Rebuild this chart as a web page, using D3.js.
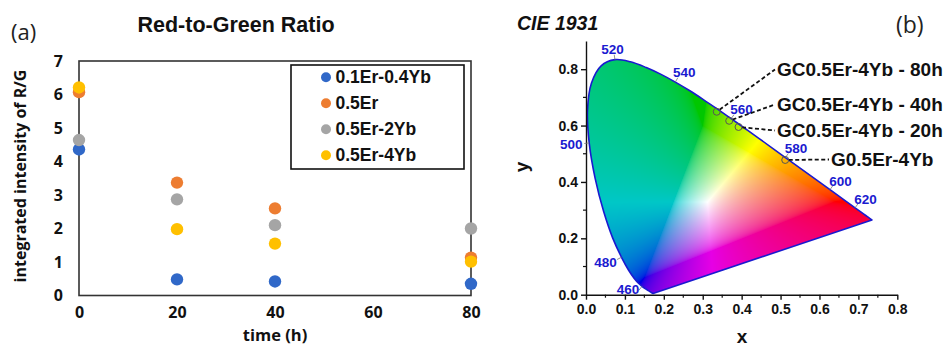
<!DOCTYPE html>
<html><head><meta charset="utf-8">
<script src="https://cdn.jsdelivr.net/npm/d3@7"></script>
<style>
html,body{margin:0;padding:0;background:#fff;}
svg{display:block;}
</style></head>
<body>
<svg id="fig" width="944" height="347"></svg>
<script>
// ---------- Panel (a) data ----------
const times = [0, 20, 40, 80];
const seriesNames = ["0.1Er-0.4Yb", "0.5Er", "0.5Er-2Yb", "0.5Er-4Yb"];
const ratio_01Er_04Yb = [4.36, 0.48, 0.42, 0.35];
const ratio_05Er = [6.07, 3.37, 2.60, 1.13];
const ratio_05Er_2Yb = [4.64, 2.87, 2.10, 2.00];
const ratio_05Er_4Yb = [6.21, 1.98, 1.55, 1.01];
const ratioYTicks = [0, 1, 2, 3, 4, 5, 6, 7];
const timeXTicks = [0, 20, 40, 60, 80];

// ---------- Panel (b) data ----------
const locusNm = [380,385,390,395,400,405,410,415,420,425,430,435,440,445,450,455,460,465,470,475,480,485,490,495,500,505,510,515,520,525,530,535,540,545,550,555,560,565,570,575,580,585,590,595,600,605,610,615,620,625,630,635,640,645,650,655,660,665,670,675,680,685,690,695,700];
const locusX = [0.1741,0.1740,0.1738,0.1736,0.1733,0.1730,0.1726,0.1721,0.1714,0.1703,0.1689,0.1669,0.1644,0.1611,0.1566,0.1510,0.1440,0.1355,0.1241,0.1096,0.0913,0.0687,0.0454,0.0235,0.0082,0.0039,0.0139,0.0389,0.0743,0.1142,0.1547,0.1929,0.2296,0.2658,0.3016,0.3373,0.3731,0.4087,0.4441,0.4788,0.5125,0.5448,0.5752,0.6029,0.6270,0.6482,0.6658,0.6801,0.6915,0.7006,0.7079,0.7140,0.7190,0.7230,0.7260,0.7283,0.7300,0.7311,0.7320,0.7327,0.7334,0.7340,0.7344,0.7346,0.7347];
const locusY = [0.0050,0.0050,0.0049,0.0049,0.0048,0.0048,0.0048,0.0048,0.0051,0.0058,0.0069,0.0086,0.0109,0.0138,0.0177,0.0227,0.0297,0.0399,0.0578,0.0868,0.1327,0.2007,0.2950,0.4127,0.5384,0.6548,0.7502,0.8120,0.8338,0.8262,0.8059,0.7816,0.7543,0.7243,0.6923,0.6589,0.6245,0.5896,0.5547,0.5202,0.4866,0.4544,0.4242,0.3965,0.3725,0.3514,0.3340,0.3197,0.3083,0.2993,0.2920,0.2859,0.2809,0.2770,0.2740,0.2717,0.2700,0.2689,0.2680,0.2673,0.2666,0.2660,0.2656,0.2654,0.2653];
const labelNm = [460, 480, 500, 520, 540, 560, 580, 600, 620];
const sampleNames = ["GC0.5Er-4Yb - 80h", "GC0.5Er-4Yb - 40h", "GC0.5Er-4Yb - 20h", "G0.5Er-4Yb"];
const sampleX = [0.336, 0.368, 0.392, 0.512];
const sampleY = [0.649, 0.617, 0.595, 0.478];
const cieXTicks = [0, 0.1, 0.2, 0.3, 0.4, 0.5, 0.6, 0.7, 0.8];
const cieYTicks = [0, 0.2, 0.4, 0.6, 0.8];
const cieXMinor = [0.05, 0.15, 0.25, 0.35, 0.45, 0.55, 0.65, 0.75];
const cieYMinor = [0.1, 0.3, 0.5, 0.7];

// ---------- Layout / style ----------
const seriesColors = ["#3068C8", "#ED7D31", "#A5A5A5", "#FFC000"];
const sampleLabelPos = [{x: 777, y: 76}, {x: 777, y: 111}, {x: 777, y: 137}, {x: 831, y: 166}];
const FA = "'Liberation Sans', Arial, sans-serif";
const FB = "'Open Sans', 'Liberation Sans', sans-serif";

const svg = d3.select("#fig");
svg.append("rect").attr("width", 944).attr("height", 347).attr("fill", "#fff");

// ================= Panel (a) =================
const ga = svg.append("g");
const xA = d3.scaleLinear().domain([0, 80]).range([79, 471]);
const yA = d3.scaleLinear().domain([0, 7]).range([295.5, 61]);

const axL = ga.append("g").attr("transform", "translate(79,0)")
  .call(d3.axisLeft(yA).tickValues(ratioYTicks).tickSize(0).tickPadding(16).tickFormat(d3.format("d")));
axL.select(".domain").remove();
axL.selectAll("text").attr("font-family", FB).attr("font-weight", 700).attr("font-size", 16).attr("fill", "#111");

const axB = ga.append("g").attr("transform", "translate(0,295.5)")
  .call(d3.axisBottom(xA).tickValues(timeXTicks).tickSize(0).tickPadding(11.5).tickFormat(d3.format("d")));
axB.select(".domain").remove();
axB.selectAll("text").attr("font-family", FB).attr("font-weight", 700).attr("font-size", 16).attr("fill", "#111");

ga.append("rect").attr("x", xA(0)).attr("y", yA(7)).attr("width", xA(80) - xA(0)).attr("height", yA(0) - yA(7))
  .attr("fill", "none").attr("stroke", "#333").attr("stroke-width", 1.6);

const allSeries = [ratio_01Er_04Yb, ratio_05Er, ratio_05Er_2Yb, ratio_05Er_4Yb];
allSeries.forEach((vals, si) => {
  ga.append("g").selectAll("circle").data(vals).join("circle")
    .attr("cx", (d, i) => xA(times[i])).attr("cy", d => yA(d)).attr("r", 6.2)
    .attr("fill", seriesColors[si]);
});

// legend
const lg = ga.append("g");
lg.append("rect").attr("x", 291).attr("y", 65).attr("width", 173).attr("height", 104)
  .attr("fill", "#fff").attr("stroke", "#111").attr("stroke-width", 1.6);
seriesNames.forEach((n, i) => {
  const cy = 77.3 + i * 26;
  lg.append("circle").attr("cx", 326).attr("cy", cy).attr("r", 5).attr("fill", seriesColors[i]);
  lg.append("text").attr("x", 335.5).attr("y", cy + 6).text(n)
    .attr("font-family", FA).attr("font-weight", 700).attr("font-size", 17.5).attr("fill", "#111");
});

ga.append("text").attr("x", 236).attr("y", 32).attr("text-anchor", "middle").text("Red-to-Green Ratio")
  .attr("font-family", FA).attr("font-weight", 700).attr("font-size", 21.5).attr("fill", "#111");
ga.append("text").attr("x", 11).attr("y", 40).text("(a)")
  .attr("font-family", FB).attr("font-size", 22).attr("fill", "#222");
ga.append("text").attr("transform", "translate(26,176) rotate(-90)").attr("text-anchor", "middle")
  .text("integrated intensity of R/G")
  .attr("font-family", FB).attr("font-weight", 700).attr("font-size", 16).attr("fill", "#111");
ga.append("text").attr("x", 275).attr("y", 341).attr("text-anchor", "middle").text("time (h)")
  .attr("font-family", FB).attr("font-weight", 700).attr("font-size", 16.5).attr("fill", "#111");

// ================= Panel (b) =================
const gb = svg.append("g");
const xC = d3.scaleLinear().domain([0, 0.8]).range([586, 897.3]);
const yC = d3.scaleLinear().domain([0, 0.9]).range([294.7, 41]);

const locusPts = locusNm.map((nm, i) => [xC(locusX[i]), yC(locusY[i])]);
const locusD = d3.line().curve(d3.curveCatmullRom.alpha(0.5))(locusPts) + "Z";

// colour fill rendered through a canvas
function xyToRgb(x, y) {
  const X = x / y, Y = 1, Z = (1 - x - y) / y;
  let r = 3.2406 * X - 1.5372 * Y - 0.4986 * Z;
  let g = -0.9689 * X + 1.8758 * Y + 0.0415 * Z;
  let b = 0.0557 * X - 0.2040 * Y + 1.0570 * Z;
  const neg = Math.max(0, -Math.min(r, g, b));
  r += 0.5 * neg; g += 0.5 * neg; b += 0.5 * neg;
  r = Math.max(0, r); g = Math.max(0, g); b = Math.max(0, b);
  const m = Math.max(r, g, b) || 1;
  r /= m; g /= m; b /= m;
  const gam = c => c <= 0.0031308 ? 12.92 * c : 1.055 * Math.pow(c, 1 / 2.4) - 0.055;
  r = gam(r); g = gam(g); b = gam(b);
  const f = 1 - 0.22 * g * (1 - r) - 0.1 * b * (1 - g);
  return [r * f * 255, g * f * 255, b * f * 255];
}
const bx0 = 586, by0 = 41, bw = 300, bh = 256;
const cv = document.createElement("canvas");
cv.width = bw; cv.height = bh;
const ctx = cv.getContext("2d");
const img = ctx.createImageData(bw, bh);
for (let j = 0; j < bh; j++) {
  for (let i = 0; i < bw; i++) {
    const px = bx0 + i + 0.5, py = by0 + j + 0.5;
    const k = (j * bw + i) * 4;
    const x = Math.max(0.001, xC.invert(px)), y = Math.max(0.002, yC.invert(py));
    const c = xyToRgb(x, y);
    img.data[k] = c[0]; img.data[k + 1] = c[1]; img.data[k + 2] = c[2]; img.data[k + 3] = 255;
  }
}
ctx.putImageData(img, 0, 0);
gb.append("clipPath").attr("id", "locusClip").append("path").attr("d", locusD);
gb.append("image").attr("x", bx0).attr("y", by0).attr("width", bw).attr("height", bh)
  .attr("href", cv.toDataURL()).attr("clip-path", "url(#locusClip)");

// locus outline
gb.append("path").attr("d", locusD)
  .attr("fill", "none").attr("stroke", "#1a1ad0").attr("stroke-width", 1.6).attr("stroke-linejoin", "round");

// axes
const axCY = gb.append("g").attr("transform", `translate(${xC(0)},0)`)
  .call(d3.axisLeft(yC).tickValues(cieYTicks).tickSize(5).tickSizeOuter(0).tickPadding(3).tickFormat(d3.format(".1f")));
const axCX = gb.append("g").attr("transform", `translate(0,${yC(0)})`)
  .call(d3.axisBottom(xC).tickValues(cieXTicks).tickSize(5).tickSizeOuter(0).tickPadding(4).tickFormat(d3.format(".1f")));
[axCY, axCX].forEach(a => {
  a.selectAll("path,line").attr("stroke", "#111").attr("stroke-width", 1.4);
  a.selectAll("text").attr("font-family", FA).attr("font-weight", 700).attr("font-size", 14).attr("fill", "#111");
});
gb.append("g").selectAll("line").data(cieYMinor).join("line")
  .attr("x1", xC(0) - 3).attr("x2", xC(0)).attr("y1", d => yC(d)).attr("y2", d => yC(d))
  .attr("stroke", "#111").attr("stroke-width", 1.2);
gb.append("g").selectAll("line").data(cieXMinor).join("line")
  .attr("y1", yC(0)).attr("y2", yC(0) + 3).attr("x1", d => xC(d)).attr("x2", d => xC(d))
  .attr("stroke", "#111").attr("stroke-width", 1.2);

// wavelength labels
const wp = [xC(0.3127), yC(0.329)];
labelNm.forEach(nm => {
  const i = locusNm.indexOf(nm);
  const p = locusPts[i], a = locusPts[i - 1], b = locusPts[i + 1];
  let tx = b[0] - a[0], ty = b[1] - a[1];
  const L = Math.hypot(tx, ty); tx /= L; ty /= L;
  let nx = ty, ny = -tx;
  if ((p[0] - wp[0]) * nx + (p[1] - wp[1]) * ny < 0) { nx = -nx; ny = -ny; }
  gb.append("line").attr("x1", p[0]).attr("y1", p[1]).attr("x2", p[0] + nx * 5).attr("y2", p[1] + ny * 5)
    .attr("stroke", "#777").attr("stroke-width", 0.8);
  const t = gb.append("text").text(nm)
    .attr("font-family", FA).attr("font-weight", 700).attr("font-size", 13.5).attr("fill", "#1a1ad0")
    .attr("text-anchor", "middle");
  const hw = 12, hh = 5;
  let cx = p[0] + nx * 6 + nx * hw, cy = p[1] + ny * 6 + ny * hh;
  if (cy > yC(0) - 6) { cy = yC(0) - 6; cx = p[0] - 14; }
  t.attr("x", cx).attr("y", cy + 4.8);
});

// sample points + leader lines + labels
sampleNames.forEach((n, i) => {
  const px = xC(sampleX[i]), py = yC(sampleY[i]);
  const lp = sampleLabelPos[i];
  const tx = lp.x - 2, ty = lp.y - 6.5;
  const dx = tx - px, dy = ty - py, L = Math.hypot(dx, dy);
  gb.append("line").attr("x1", px + dx / L * 3.5).attr("y1", py + dy / L * 3.5).attr("x2", tx).attr("y2", ty)
    .attr("stroke", "#111").attr("stroke-width", 1.8).attr("stroke-dasharray", "4,2.5");
  gb.append("circle").attr("cx", px).attr("cy", py).attr("r", 3.5)
    .attr("fill", "none").attr("stroke", "#555").attr("stroke-width", 1);
  gb.append("text").attr("x", lp.x).attr("y", lp.y).text(n)
    .attr("font-family", FA).attr("font-weight", 700).attr("font-size", 19).attr("fill", "#111");
});

gb.append("text").attr("x", 517).attr("y", 29.5).text("CIE 1931")
  .attr("font-family", FA).attr("font-weight", 700).attr("font-style", "italic").attr("font-size", 19.5).attr("fill", "#111");
gb.append("text").attr("x", 896).attr("y", 33).text("(b)")
  .attr("font-family", FB).attr("font-size", 23).attr("fill", "#222");
gb.append("text").attr("x", 742).attr("y", 343).attr("text-anchor", "middle").text("x")
  .attr("font-family", FA).attr("font-weight", 700).attr("font-size", 19).attr("fill", "#111");
gb.append("text").attr("transform", "translate(528,167) rotate(-90)").attr("text-anchor", "middle").text("y")
  .attr("font-family", FA).attr("font-weight", 700).attr("font-size", 19).attr("fill", "#111");
</script>
</body></html>
